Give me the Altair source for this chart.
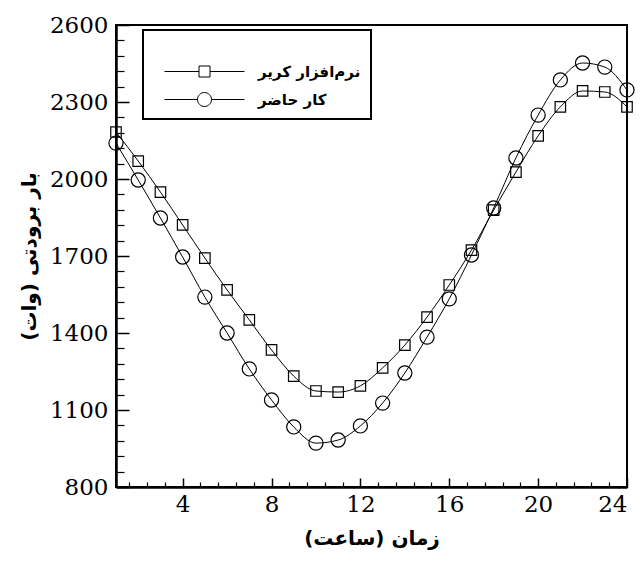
import altair as alt
import pandas as pd

hours = list(range(1, 25))
carrier = [2183, 2070, 1949, 1821, 1692, 1568, 1451, 1334, 1232, 1174, 1170, 1194,
           1264, 1353, 1462, 1587, 1723, 1879, 2027, 2168, 2281, 2343, 2339, 2281]
present = [2140, 1996, 1848, 1696, 1540, 1400, 1260, 1139, 1034, 971, 983, 1038,
           1127, 1244, 1384, 1533, 1704, 1887, 2082, 2249, 2386, 2452, 2436, 2347]
series_names = ["نرم‌افزار کریر", "کار حاضر"]
x_major = [4, 8, 12, 16, 20, 24]
y_major = [800, 1100, 1400, 1700, 2000, 2300, 2600]
x_minor = [round(0.8 * i, 1) for i in range(2, 30) if i % 5 != 0]
y_minor = [800 + 60 * i for i in range(1, 30) if i % 5 != 0]
x_title = "زمان (ساعت)"
y_title = "بار برودتی (وات)"

df = pd.DataFrame({
    "h": hours * 2,
    "load": carrier + present,
    "series": [series_names[0]] * 24 + [series_names[1]] * 24,
})

W, H = 511, 462
X = alt.Scale(domain=[1, 24], nice=False, zero=False)
Y = alt.Scale(domain=[800, 2600], nice=False, zero=False)
SERIF = "DejaVu Serif"

base = alt.Chart(df)

lines = base.mark_line(interpolate="monotone", color="black", strokeWidth=1).encode(
    x=alt.X("h:Q", scale=X, axis=alt.Axis(values=x_major, title=x_title, ticks=False, format="d",
                                           labelFont=SERIF, labelFontSize=23,
                                           labelPadding=6, titlePadding=12, grid=False)),
    y=alt.Y("load:Q", scale=Y, axis=alt.Axis(values=y_major, title=y_title, ticks=False, format="d",
                                              labelFont=SERIF, labelFontSize=23,
                                              labelPadding=8, titlePadding=10, grid=False)),
    detail="series:N",
)

squares = base.transform_filter(alt.datum.series == series_names[0]).mark_point(
    shape="square", size=110, filled=False, color="black", strokeWidth=1.2, opacity=1
).encode(x=alt.X("h:Q", axis=None), y=alt.Y("load:Q", axis=None))

circles = base.transform_filter(alt.datum.series == series_names[1]).mark_point(
    shape="circle", size=200, filled=False, color="black", strokeWidth=1.2, opacity=1
).encode(x=alt.X("h:Q", axis=None), y=alt.Y("load:Q", axis=None))

sq_path = "M-8,0H-1.1M1.1,0H8M-1.1,-1.1H1.1V1.1H-1.1Z"
ci_path = "M-8,0H-1.4M1.4,0H8M-1.4,0A1.4,1.4 0 1,0 1.4,0A1.4,1.4 0 1,0 -1.4,0"

legend_layer = base.transform_filter("datum.h < 0").mark_point(
    filled=False, color="black", strokeWidth=1
).encode(
    x=alt.X("h:Q", axis=None), y=alt.Y("load:Q", axis=None),
    shape=alt.Shape("series:N", scale=alt.Scale(domain=series_names, range=[sq_path, ci_path]),
                    legend=alt.Legend(orient="none", legendX=27, legendY=5, title=" ",
                                      titleFontSize=18, titlePadding=6,
                                      symbolSize=100, symbolOffset=44, labelOffset=46,
                                      symbolStrokeWidth=1, symbolStrokeColor="black",
                                      symbolFillColor="transparent", symbolOpacity=1,
                                      labelFont="DejaVu Sans", labelFontWeight="bold",
                                      labelFontSize=15, labelColor="black", labelLimit=300,
                                      rowPadding=10, padding=10,
                                      fillColor="white", strokeColor="black")),
)

major_ticks = base.transform_filter("datum.h < 0").mark_point(opacity=0).encode(
    x=alt.X("h:Q", axis=alt.Axis(orient="top", offset=-H, values=x_major, labels=False,
                                  domain=False, tickSize=9, tickWidth=1.5, tickColor="black",
                                  title=None, grid=False)),
    y=alt.Y("load:Q", axis=alt.Axis(orient="right", offset=-W, values=y_major, labels=False,
                                     domain=False, tickSize=13, tickWidth=1.5, tickColor="black",
                                     title=None, grid=False)),
)

minor_ticks = base.transform_filter("datum.h < 0").mark_point(opacity=0).encode(
    x=alt.X("h:Q", axis=alt.Axis(orient="top", offset=-H, values=x_minor, labels=False,
                                  domain=False, tickSize=5, tickWidth=1.2, tickColor="black",
                                  title=None, grid=False)),
    y=alt.Y("load:Q", axis=alt.Axis(orient="right", offset=-W, values=y_minor, labels=False,
                                     domain=False, tickSize=8, tickWidth=1.2, tickColor="black",
                                     title=None, grid=False)),
)

chart = alt.layer(lines, squares, circles, legend_layer, major_ticks, minor_ticks).resolve_axis(
    x="independent", y="independent"
).properties(
    width=W, height=H,
    padding={"left": 116, "top": 25, "right": 16, "bottom": 80},
    autosize=alt.AutoSizeParams(type="none"),
    background="white",
).configure_view(
    stroke="black", strokeWidth=2
).configure_axis(
    domainColor="black", domainWidth=2.5, labelColor="black",
    titleFont="DejaVu Sans", titleFontWeight="bold", titleFontSize=20, titleColor="black",
).configure_legend(strokeWidth=2)

chart.save("out.html", embed_options={"renderer": "svg", "actions": False})
